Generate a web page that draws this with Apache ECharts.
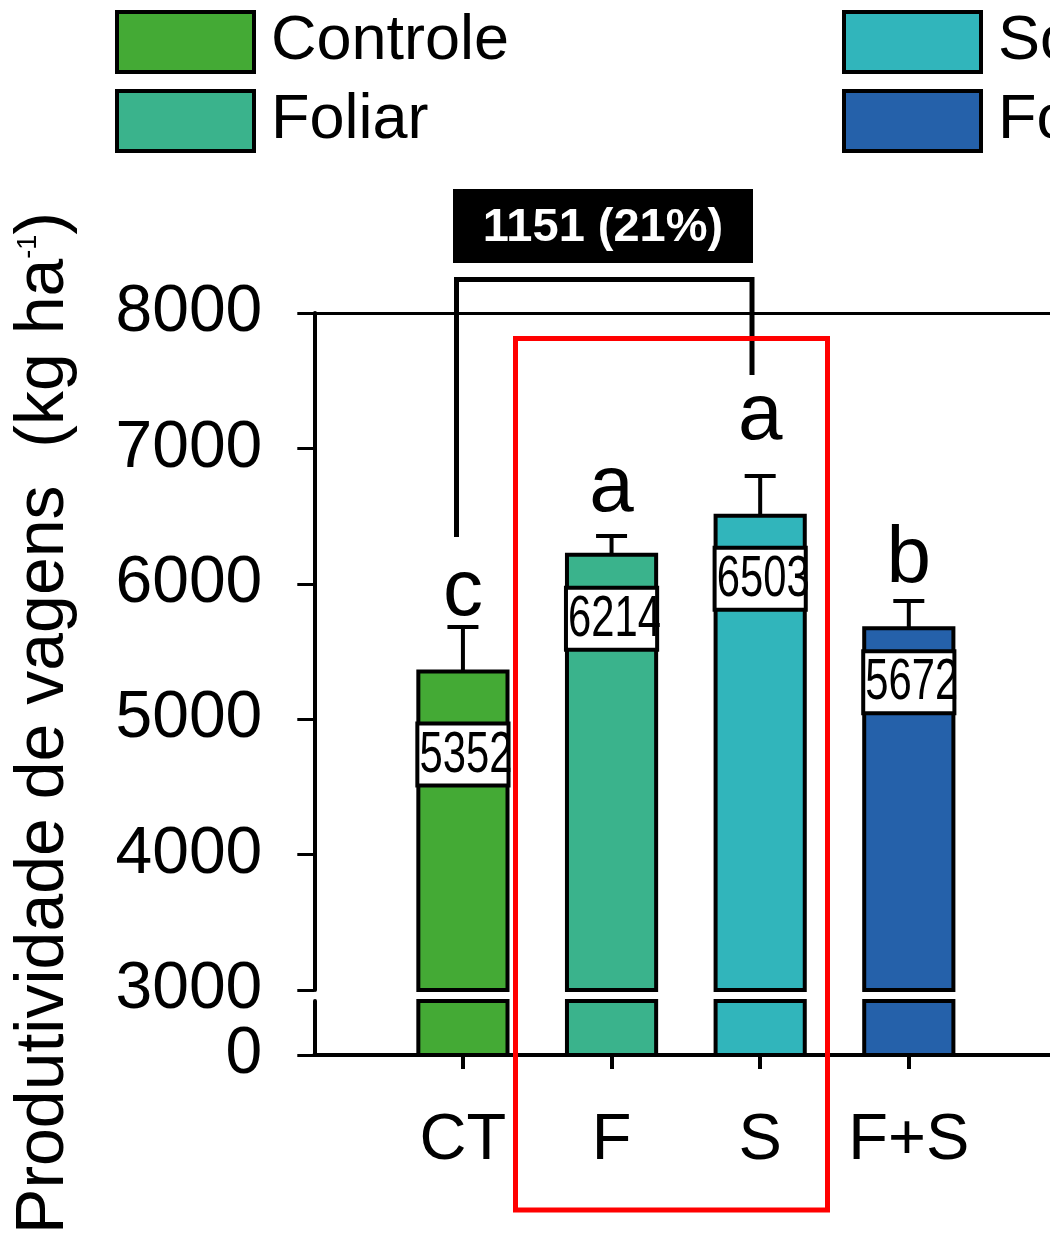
<!DOCTYPE html>
<html>
<head>
<meta charset="utf-8">
<script src="https://cdn.jsdelivr.net/npm/echarts@6/dist/echarts.min.js"></script>
<style>
  html, body { margin: 0; padding: 0; background: #fff; }
  #chart { width: 1050px; height: 1239px; }
</style>
</head>
<body>
<div id="chart"></div>
<script>
// Pod yield per treatment (kg ha-1), mean and error bar
const categories = ['CT', 'F', 'S', 'F+S'];
const treatments = ['Controle', 'Foliar', 'Solo', 'Foliar + Solo'];
const yieldMean = [5352, 6214, 6503, 5672];
const yieldErr = [329, 139, 293, 201];
const groupLetters = ['c', 'a', 'a', 'b'];
const contrastLabel = '1151 (21%)';

// Broken y axis: upper segment ticks and the single tick on the lower stub
const upperTicks = [3000, 4000, 5000, 6000, 7000, 8000];
const lowerTicks = [0];
const lowerMax = 3000;

const barColors = ['#44aa35', '#3ab38c', '#31b5bb', '#2561aa'];
const FONT = '"Liberation Sans", Arial, Helvetica, sans-serif';

// per-bar placement of the value box (px below bar top) and the letter (px above the cap)
const labelDrop = [83, 64, 63, 54];
const letterGap = [10, 23, 35, 17];

const chart = echarts.init(document.getElementById('chart'), null, { renderer: 'canvas' });

function renderUpper(params, api) {
  const i = api.value(0);
  const mean = api.value(1);
  const err = api.value(2);
  const top = api.coord([i, mean]);
  const base = api.coord([i, upperTicks[0]]);
  const cap = api.coord([i, mean + err]);
  const w = api.size([1, 0])[0] * 0.6;
  const cx = top[0];
  const boxY = top[1] + labelDrop[i];
  return {
    type: 'group',
    children: [
      { type: 'line', shape: { x1: cx, y1: top[1], x2: cx, y2: cap[1] },
        style: { stroke: '#000', lineWidth: 4 } },
      { type: 'line', shape: { x1: cx - 15.5, y1: cap[1], x2: cx + 15.5, y2: cap[1] },
        style: { stroke: '#000', lineWidth: 4 } },
      { type: 'rect', shape: { x: cx - w / 2, y: top[1], width: w, height: base[1] - top[1] },
        style: { fill: api.visual('color'), stroke: '#000', lineWidth: 4 } },
      { type: 'rect', shape: { x: cx - w / 2 - 1, y: boxY - 31, width: w + 2, height: 62 },
        style: { fill: '#fff', stroke: '#000', lineWidth: 4 } },
      { type: 'text', x: cx + 3, y: boxY + 1, scaleX: 0.72,
        style: { text: String(mean), font: '58px ' + FONT, fill: '#000',
                 align: 'center', verticalAlign: 'middle' } },
      { type: 'text', x: cx, y: cap[1] - letterGap[i] - 24,
        style: { text: groupLetters[i], font: '80px ' + FONT, fill: '#000',
                 align: 'center', verticalAlign: 'middle' } }
    ]
  };
}

function renderLower(params, api) {
  const i = api.value(0);
  const v = api.value(1);
  const bottom = api.coord([i, 0]);
  const top = api.coord([i, Math.min(v, lowerMax)]);
  const w = api.size([1, 0])[0] * 0.6;
  return {
    type: 'rect',
    shape: { x: bottom[0] - w / 2, y: top[1], width: w, height: bottom[1] - top[1] },
    style: { fill: barColors[i], stroke: '#000', lineWidth: 4 }
  };
}

const legendBase = {
  orient: 'vertical',
  top: 10,
  padding: 0,
  icon: 'rect',
  itemWidth: 137,
  itemHeight: 60,
  itemGap: 15,
  selectedMode: false,
  itemStyle: { borderColor: '#000', borderWidth: 4 },
  textStyle: { fontSize: 63, fontFamily: FONT, color: '#000', lineHeight: 60, padding: [0, 0, 0, 12] }
};

const axisLabelStyle = { color: '#000', fontFamily: FONT };

// x runs from -1 so the first category sits one band right of the y axis
const xMin = -1;
const xMax = 3.95;

const option = {
  animation: false,
  backgroundColor: '#fff',
  legend: [
    Object.assign({}, legendBase, { left: 115, data: treatments.slice(0, 2) }),
    Object.assign({}, legendBase, { left: 842, data: treatments.slice(2, 4) })
  ],
  grid: [
    { left: 314.3, top: 313, right: 0, height: 677 },
    { left: 314.3, top: 1001, right: 0, height: 54 }
  ],
  xAxis: [
    { gridIndex: 0, type: 'value', min: xMin, max: xMax, position: 'top',
      axisLine: { show: true, onZero: false, lineStyle: { color: '#000', width: 3 } },
      axisTick: { show: false }, axisLabel: { show: false }, splitLine: { show: false } },
    { gridIndex: 1, type: 'value', min: xMin, max: xMax, position: 'bottom',
      axisLine: { show: true, onZero: false, lineStyle: { color: '#000', width: 4 } },
      axisTick: { show: true, customValues: [0, 1, 2, 3], length: 14,
                  lineStyle: { color: '#000', width: 4 } },
      axisLabel: Object.assign({ customValues: [0, 1, 2, 3], fontSize: 65, margin: 54,
                  formatter: v => categories[v] }, axisLabelStyle),
      splitLine: { show: false } }
  ],
  yAxis: [
    { gridIndex: 0, type: 'value', min: upperTicks[0], max: upperTicks[upperTicks.length - 1],
      interval: upperTicks[1] - upperTicks[0],
      axisLine: { show: true, onZero: false, lineStyle: { color: '#000', width: 4 } },
      axisTick: { show: true, length: 17, lineStyle: { color: '#000', width: 3 } },
      axisLabel: Object.assign({ fontSize: 66, margin: 52, formatter: v => String(v) }, axisLabelStyle),
      splitLine: { show: false } },
    { gridIndex: 1, type: 'value', min: 0, max: lowerMax,
      axisLine: { show: true, onZero: false, lineStyle: { color: '#000', width: 4 } },
      axisTick: { show: true, customValues: lowerTicks, length: 17, lineStyle: { color: '#000', width: 3 } },
      axisLabel: Object.assign({ customValues: lowerTicks, fontSize: 66, margin: 52,
                  formatter: v => String(v) }, axisLabelStyle),
      splitLine: { show: false } }
  ],
  series: treatments.map((name, i) => ({
    type: 'custom',
    name: name,
    xAxisIndex: 0,
    yAxisIndex: 0,
    clip: false,
    itemStyle: { color: barColors[i] },
    data: [[i, yieldMean[i], yieldErr[i]]],
    renderItem: renderUpper
  })).concat([{
    type: 'custom',
    name: 'stub',
    xAxisIndex: 1,
    yAxisIndex: 1,
    data: yieldMean.map((v, i) => [i, v]),
    renderItem: renderLower
  }]),
  graphic: [
    // highlighted treatments
    { type: 'rect', z: 100, shape: { x: 515.5, y: 338.5, width: 312, height: 871.5 },
      style: { fill: 'none', stroke: '#ff0000', lineWidth: 5 } },
    // CT vs S comparison bracket
    { type: 'polyline', z: 90,
      shape: { points: [[456.5, 537], [456.5, 279.5], [752, 279.5], [752, 375]] },
      style: { fill: 'none', stroke: '#000', lineWidth: 5 } },
    { type: 'rect', z: 90, shape: { x: 453, y: 189, width: 300, height: 74 },
      style: { fill: '#000' } },
    { type: 'text', z: 91, x: 603, y: 228,
      style: { text: contrastLabel, font: 'bold 47px ' + FONT, fill: '#fff',
               align: 'center', verticalAlign: 'middle' } },
    // y axis title
    { type: 'text', z: 90, x: 44, y: 723, rotation: Math.PI / 2,
      style: {
        text: '{t|Produtividade de vagens  (kg ha}{s|-1}{t|)}',
        align: 'center', verticalAlign: 'middle', fill: '#000',
        rich: {
          t: { font: '68px ' + FONT, lineHeight: 58, fill: '#000' },
          s: { font: '27px ' + FONT, lineHeight: 27, verticalAlign: 'top', fill: '#000' }
        }
      } }
  ]
};

chart.setOption(option);
</script>
</body>
</html>
